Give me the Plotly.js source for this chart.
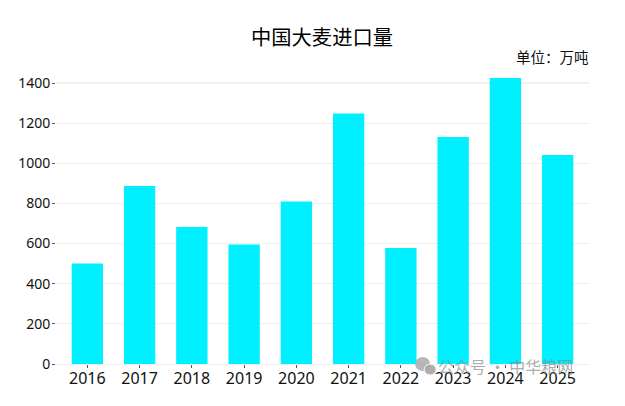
<!DOCTYPE html>
<html><head><meta charset="utf-8">
<script src="https://cdn.plot.ly/plotly-3.0.1.min.js"></script>
<style>html,body{margin:0;padding:0;background:#fff}#c{width:625px;height:406px}</style>
</head><body><div id="c"></div>
<script>
const years = ["2016","2017","2018","2019","2020","2021","2022","2023","2024","2025"];
const imports = [501,887,683,595,810,1248,578,1131,1425,1041];
const yTicks = [0,200,400,600,800,1000,1200,1400];
const chartTitle = "中国大麦进口量";
const unitLabel = "单位：万吨";
const watermark = "公众号 · 中华粮网";
const F = '"Noto Sans","Noto Sans CJK SC",sans-serif';
const FC = '"Noto Sans CJK SC","Noto Sans",sans-serif';
const W=625,H=406,L=55.5,R=589,T=75,B=364;
const px=(x)=>(x-L)/(R-L), py=(y)=>(B-y)/(B-T);
Plotly.newPlot('c',[{
  type:'bar',x:years,y:imports,width:0.6,
  marker:{color:'#00F0FF',line:{width:0}},hoverinfo:'x+y'
}],{
  width:W,height:H,showlegend:false,
  margin:{l:L,r:W-R,t:T,b:H-B,pad:0},
  paper_bgcolor:'#fff',plot_bgcolor:'#fff',
  title:{text:chartTitle,font:{family:FC,size:20.3,color:'#000'},x:322/W,xanchor:'center',y:1-38/H,yanchor:'middle'},
  xaxis:{type:'category',range:[-0.6,9.6],ticks:'outside',ticklen:3,tickcolor:'#555',tickwidth:1,ticklabelstandoff:-3,
    showgrid:false,zeroline:false,showline:false,tickfont:{family:F,size:16,color:'#111'},automargin:false},
  yaxis:{range:[0,(B-T)/0.2007],tickvals:yTicks,ticks:'outside',ticklen:3,tickcolor:'#555',tickwidth:1,ticklabelstandoff:-1,
    gridcolor:'#f0f0f0',gridwidth:1.2,zeroline:true,zerolinecolor:'#f0f0f0',zerolinewidth:1,showline:false,
    tickfont:{family:F,size:14,color:'#111'},automargin:false},
  annotations:[
    {xref:'paper',yref:'paper',x:1,y:py(56.5),xanchor:'right',yanchor:'middle',showarrow:false,text:unitLabel,
     font:{family:FC,size:14.5,color:'#111'},xshift:2},
    {xref:'paper',yref:'paper',x:px(575),y:py(366),xanchor:'right',yanchor:'middle',showarrow:false,text:watermark,
     font:{family:FC,size:16,color:'rgba(135,135,135,0.7)'}}
  ],
  shapes:[
    {type:'circle',xref:'paper',yref:'paper',x0:px(415),x1:px(430),y0:py(371),y1:py(357),fillcolor:'rgba(170,170,170,0.85)',line:{width:0},layer:'above'},
    {type:'circle',xref:'paper',yref:'paper',x0:px(424),x1:px(436),y0:py(375),y1:py(364),fillcolor:'rgba(170,170,170,0.95)',line:{color:'#fff',width:1},layer:'above'}
  ]
},{displayModeBar:false,staticPlot:true});
</script></body></html>
